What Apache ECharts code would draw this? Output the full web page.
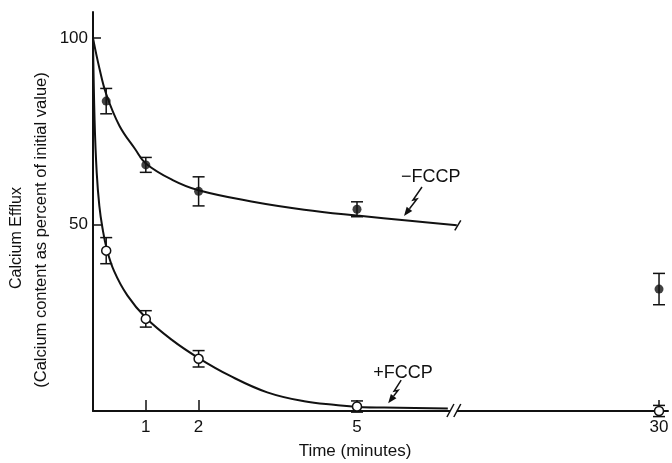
<!DOCTYPE html>
<html>
<head>
<meta charset="utf-8">
<script src="https://cdn.jsdelivr.net/npm/echarts@6/dist/echarts.min.js"></script>
<style>
html, body { margin: 0; padding: 0; background: #fff; }
#chart { width: 672px; height: 463px; }
</style>
</head>
<body>
<div id="chart"></div>
<script>
// measured points (time in minutes, % of initial calcium)
const sampleTimes = [0.25, 1, 2, 5, 30]
const minusFccpMean = [83.1, 66.0, 58.9, 54.1, 32.7]
const minusFccpErr = [3.4, 2.0, 3.9, 2.0, 4.2]
const plusFccpMean = [43.0, 24.7, 14.0, 1.2, 0]
const plusFccpErr = [3.5, 2.2, 2.2, 1.5, 1.5]

// fitted curves
const minusCurveTime = [0, 0.12, 0.25, 0.5, 0.8, 1.0, 1.5, 2.0, 3.0, 4.0, 5.0, 6.0, 6.89]
const minusCurveValue = [100, 92, 85, 76.5, 70.2, 66.4, 62, 59.2, 56.2, 54.0, 52.4, 51.0, 49.8]
const plusCurveTime = [0, 0.03, 0.07, 0.12, 0.18, 0.26, 0.4, 0.65, 1.0, 1.5, 2.0, 2.6, 3.3, 4.0, 4.6, 5.0, 5.8, 6.72]
const plusCurveValue = [100, 78, 64, 55, 49, 43.5, 37.5, 31, 25, 19, 14.2, 9.4, 5, 2.6, 1.6, 1.1, 0.9, 0.7]

// tick labels
const xTickTimes = [1, 2, 5, 30]
const yTickValues = [50, 100]

// the x axis is broken between ~7 and ~29 min
const AXIS_BREAK = 7
const BREAK_SHIFT = 19.28
function brokenX(t) {
  return t > AXIS_BREAK ? t - BREAK_SHIFT : t
}

const FONT = 'Liberation Sans'
const INK = '#111'

const zip = (ts, vs) => ts.map((t, i) => [brokenX(t), vs[i]])
const zip3 = (ts, vs, es) => ts.map((t, i) => [brokenX(t), vs[i], es[i]])

function errorBarItem(params, api) {
  const x = api.value(0), y = api.value(1), e = api.value(2)
  const top = api.coord([x, y + e])
  const bot = api.coord([x, y - e])
  const hw = 6
  const style = { stroke: INK, lineWidth: 1.5 }
  return {
    type: 'group',
    children: [
      { type: 'line', shape: { x1: top[0], y1: top[1], x2: bot[0], y2: bot[1] }, style },
      { type: 'line', shape: { x1: top[0] - hw, y1: top[1], x2: top[0] + hw, y2: top[1] }, style },
      { type: 'line', shape: { x1: bot[0] - hw, y1: bot[1], x2: bot[0] + hw, y2: bot[1] }, style }
    ]
  }
}

const chart = echarts.init(document.getElementById('chart'))

const option = {
  animation: false,
  backgroundColor: '#fff',
  grid: { left: 93, right: 4, top: 12, bottom: 52 },
  xAxis: {
    type: 'value',
    min: 0,
    max: 10.89,
    splitLine: { show: false },
    axisLine: { onZero: false, lineStyle: { color: INK, width: 2 } },
    axisTick: {
      inside: true,
      length: 11,
      customValues: xTickTimes.map(brokenX),
      lineStyle: { color: INK, width: 1.5 }
    },
    axisLabel: {
      customValues: xTickTimes.map(brokenX),
      margin: 8,
      fontFamily: FONT,
      fontSize: 17,
      color: INK,
      formatter(v) {
        const i = xTickTimes.findIndex(t => Math.abs(brokenX(t) - v) < 1e-6)
        return i >= 0 ? String(xTickTimes[i]) : ''
      }
    }
  },
  yAxis: {
    type: 'value',
    min: 0,
    max: 107,
    splitLine: { show: false },
    axisLine: { show: true, lineStyle: { color: INK, width: 2 } },
    axisTick: {
      show: true,
      inside: true,
      length: 8,
      customValues: yTickValues,
      lineStyle: { color: INK, width: 1.5 }
    },
    axisLabel: {
      customValues: yTickValues,
      margin: 5,
      fontFamily: FONT,
      fontSize: 17,
      color: INK
    }
  },
  series: [
    {
      name: '-FCCP fit',
      type: 'line',
      data: zip(minusCurveTime, minusCurveValue),
      showSymbol: false,
      smooth: 0.4,
      lineStyle: { color: INK, width: 2 },
      z: 2
    },
    {
      name: '+FCCP fit',
      type: 'line',
      data: zip(plusCurveTime, plusCurveValue),
      showSymbol: false,
      smooth: 0.4,
      lineStyle: { color: INK, width: 2 },
      z: 2
    },
    {
      name: '-FCCP err',
      type: 'custom',
      renderItem: errorBarItem,
      data: zip3(sampleTimes, minusFccpMean, minusFccpErr),
      z: 3
    },
    {
      name: '+FCCP err',
      type: 'custom',
      renderItem: errorBarItem,
      data: zip3(sampleTimes, plusFccpMean, plusFccpErr),
      z: 3
    },
    {
      name: '-FCCP',
      type: 'scatter',
      data: zip(sampleTimes, minusFccpMean),
      symbol: 'circle',
      symbolSize: 9,
      itemStyle: { color: INK },
      z: 4
    },
    {
      name: '+FCCP',
      type: 'scatter',
      data: zip(sampleTimes, plusFccpMean),
      symbol: 'circle',
      symbolSize: 9,
      itemStyle: { color: '#fff', borderColor: INK, borderWidth: 1.5, opacity: 1 },
      z: 4
    }
  ]
}

chart.setOption(option)

// annotations: arrows, labels, axis break marks, axis titles
const px = (x, y) => chart.convertToPixel({ gridIndex: 0 }, [x, y])

function boltArrow(tip, offsets) {
  const pts = offsets.map(o => [tip[0] + o[0], tip[1] + o[1]])
  const a = pts[pts.length - 2], b = pts[pts.length - 1]
  const dx = b[0] - a[0], dy = b[1] - a[1]
  const len = Math.hypot(dx, dy)
  const ux = dx / len, uy = dy / len
  const hl = 9, hw = 3.5
  const base = [b[0] - ux * hl, b[1] - uy * hl]
  const line = pts.slice(0, -1).concat([base])
  return [
    { type: 'polyline', shape: { points: line }, style: { stroke: INK, lineWidth: 1.5, fill: null }, z: 10 },
    {
      type: 'polygon',
      shape: { points: [b, [base[0] - uy * hw, base[1] + ux * hw], [base[0] + uy * hw, base[1] - ux * hw]] },
      style: { fill: INK },
      z: 10
    }
  ]
}

const minusTip = px(5.89, 52.3)
const plusTip = px(5.59, 2.1)
const breakA = px(6.76, 0)
const breakB = px(6.89, 0)
const minusEnd = px(brokenX(minusCurveTime[minusCurveTime.length - 1]), minusCurveValue[minusCurveValue.length - 1])
const titleAt = px(5, 0)

const graphics = []
graphics.push(...boltArrow(minusTip, [[18, -29], [9, -16], [13, -17], [0, 0]]))
graphics.push(...boltArrow(plusTip, [[13, -23], [6, -12], [10, -13], [0, 0]]))
graphics.push({
  type: 'text', z: 10,
  style: { text: '\u2212FCCP', x: minusTip[0] - 3, y: minusTip[1] - 39, verticalAlign: 'middle', fontFamily: FONT, fontSize: 18, fill: INK }
})
graphics.push({
  type: 'text', z: 10,
  style: { text: '+FCCP', x: plusTip[0] - 15, y: plusTip[1] - 30, verticalAlign: 'middle', fontFamily: FONT, fontSize: 18, fill: INK }
})
// break marks on the x axis
graphics.push({
  type: 'rect', z: 9,
  shape: { x: breakA[0], y: breakA[1] - 2, width: breakB[0] - breakA[0], height: 4 },
  style: { fill: '#fff' }
})
;[breakA, breakB].forEach(p => {
  graphics.push({
    type: 'line', z: 10,
    shape: { x1: p[0] - 3, y1: p[1] + 6, x2: p[0] + 4, y2: p[1] - 7 },
    style: { stroke: INK, lineWidth: 1.5 }
  })
})
// end tick on the -FCCP curve
graphics.push({
  type: 'line', z: 10,
  shape: { x1: minusEnd[0] - 2, y1: minusEnd[1] + 5, x2: minusEnd[0] + 4, y2: minusEnd[1] - 5 },
  style: { stroke: INK, lineWidth: 1.5 }
})
// axis titles
graphics.push({
  type: 'text', z: 10,
  style: { text: 'Time (minutes)', x: titleAt[0] - 2, y: 451, align: 'center', verticalAlign: 'middle', fontFamily: FONT, fontSize: 17, fill: INK }
})
graphics.push({
  type: 'text', z: 10, x: 17, y: 238, rotation: Math.PI / 2,
  style: { text: 'Calcium Efflux', align: 'center', verticalAlign: 'middle', fontFamily: FONT, fontSize: 16, fill: INK }
})
graphics.push({
  type: 'text', z: 10, x: 41, y: 230, rotation: Math.PI / 2,
  style: { text: '(Calcium content as percent of initial value)', align: 'center', verticalAlign: 'middle', fontFamily: FONT, fontSize: 16.5, fill: INK }
})

chart.setOption({ graphic: graphics })
</script>
</body>
</html>
